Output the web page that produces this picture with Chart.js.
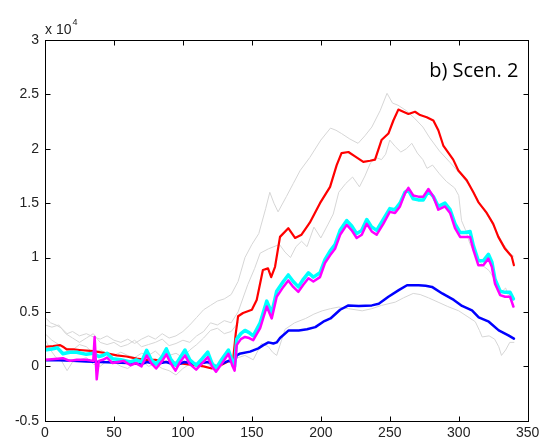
<!DOCTYPE html>
<html><head><meta charset="utf-8">
<script src="https://cdn.jsdelivr.net/npm/chart.js@4.4.1/dist/chart.umd.min.js"></script>
<style>html,body{margin:0;padding:0;background:#fff;}#c{display:block;}</style>
</head><body>
<canvas id="c" width="544" height="444"></canvas>
<script>
// ---- tick labels / texts ----
const xTicks = [0, 50, 100, 150, 200, 250, 300, 350];
const yTicks = [-0.5, 0, 0.5, 1, 1.5, 2, 2.5, 3];
const yTickLabels = ['-0.5', '0', '0.5', '1', '1.5', '2', '2.5', '3'];
const exponentBase = 'x 10';
const exponentPower = '4';
const panelLabel = 'b) Scen. 2';

// ---- series (values in units of 10^4) ----
const redX = [0,6,11,13,15.7,20.5,25,35,44.7,52,59,66.5,72.5,80,87,96.7,108.8,115,121,126,130.5,136.5,138.3,140,143.6,150,153.5,158,161.7,164,166.8,170.4,176.4,181.3,186,192,199.4,206.7,211.5,215,220,224.8,230.8,235.7,239.3,244,249,252.6,256.2,259.8,263.5,268.3,272,276.8,281.6,285.2,288.8,296,299.7,305.8,310.6,314.2,320.3,325,328.7,333.6,338.4,340];
const redY = [0.18,0.185,0.195,0.18,0.155,0.155,0.15,0.14,0.12,0.10,0.09,0.07,0.06,0.06,0.04,0.03,0.01,0.0,-0.02,0.0,0.03,0.07,0.30,0.46,0.49,0.52,0.61,0.885,0.90,0.82,0.915,1.19,1.27,1.18,1.21,1.32,1.50,1.65,1.85,1.96,1.97,1.93,1.88,1.89,1.90,2.08,2.14,2.26,2.36,2.34,2.32,2.34,2.31,2.29,2.26,2.17,2.03,1.90,1.80,1.71,1.60,1.51,1.41,1.31,1.19,1.08,1.01,0.93];

const magX = [0,5,9,13,18,23,30,35,36,37.5,39,42,45,49,53,57,62,66,70,73.7,77,80.6,85,88,91,94.6,98,101.5,105,109.6,114,118,121,124,128,133,136,137.5,139,142,145,148,151,156,160.8,164.4,168,172.8,176.4,180,183.7,187.3,191,194.6,199.4,203,206.7,210.3,214,218.8,222.4,226,229.7,233.3,236.9,240.5,245.3,250,253.8,257.4,261,263.5,267,270.7,274.3,278,281.6,285.2,290,293.7,297.3,301,304.6,308.2,310.6,314.2,317.8,321.5,324,326.3,330,333.6,337.2,339.6];
const magY = [0.06,0.065,0.07,0.075,0.05,0.06,0.06,0.05,0.27,-0.12,0.05,0.06,0.08,0.03,0.04,0.05,0.01,0.03,0.0,0.10,0.03,-0.02,0.05,0.11,0.03,-0.04,0.04,0.10,0.02,-0.03,0.03,0.085,0.0,-0.05,0.02,0.115,0.0,-0.04,0.195,0.25,0.27,0.26,0.24,0.35,0.55,0.44,0.64,0.73,0.79,0.73,0.685,0.75,0.81,0.78,0.82,0.95,1.02,1.08,1.21,1.30,1.25,1.18,1.21,1.31,1.24,1.21,1.31,1.42,1.41,1.47,1.59,1.64,1.57,1.56,1.56,1.63,1.56,1.44,1.47,1.41,1.27,1.19,1.19,1.19,1.07,0.93,0.93,0.99,0.915,0.76,0.655,0.64,0.64,0.55];

const cyanX = [0,5,9,13,18,23,30,35,39,42,45,49,55,62,66,70,73.7,77,80.6,85,88,91,94.6,98,101.5,105,109.6,114,118,121,124,128,133,136,137.5,139,142,145,148,151,156,160.8,164.4,168,172.8,176.4,180,183.7,187.3,191,194.6,199.4,203,206.7,210.3,214,218.8,222.4,226,229.7,233.3,236.9,240.5,245.3,250,253.8,257.4,261,263.5,267,270.7,274.3,278,281.6,285.2,290,293.7,297.3,301,304.6,308.2,310.6,314.2,317.8,321.5,324,326.3,330,333.6,337.2,339.6];
const cyanY = [0.15,0.16,0.17,0.115,0.13,0.13,0.11,0.12,0.09,0.10,0.12,0.07,0.06,0.04,0.06,0.04,0.147,0.06,0.02,0.09,0.16,0.07,0.01,0.08,0.15,0.06,0.01,0.07,0.13,0.03,-0.02,0.06,0.15,0.04,0.0,0.25,0.30,0.33,0.31,0.28,0.40,0.60,0.49,0.69,0.78,0.84,0.78,0.73,0.80,0.86,0.82,0.86,0.98,1.06,1.12,1.25,1.34,1.29,1.22,1.25,1.35,1.28,1.25,1.35,1.45,1.44,1.50,1.60,1.62,1.54,1.53,1.53,1.61,1.56,1.47,1.50,1.44,1.31,1.23,1.23,1.24,1.11,0.97,0.97,1.03,0.96,0.80,0.69,0.68,0.68,0.62];

const blueX = [0,10,20,30,40,50,60,70,74,80,88,95,101,110,118,124,133,137.5,139,141,148.7,154.7,158.3,162,165.6,168,170.4,176.7,184,190,196,201.8,207,214,220,227.5,237,242,249,256.5,262.5,271,276,280.6,288,296.4,302.4,309.6,314.5,321.8,329,336,340];
const blueY = [0.055,0.055,0.05,0.045,0.04,0.035,0.03,0.02,0.04,0.02,0.04,0.01,0.04,0.02,0.04,0.0,0.05,0.03,0.10,0.115,0.135,0.165,0.195,0.22,0.21,0.22,0.26,0.33,0.33,0.34,0.36,0.41,0.44,0.52,0.56,0.555,0.56,0.575,0.64,0.70,0.745,0.745,0.74,0.73,0.67,0.61,0.555,0.515,0.45,0.41,0.33,0.285,0.255];

const grayAX = [0,4,8,12,16,20,25,30,35,40,45,50,55,60,65,70,75,80,85,90,95,100,105,110,115,120,125,130,135,140,145,150,155,160,163,166,169,175,180,185,192,200,207,211,215,221,227,232,237,243,248,252,256,262,268,274,279,286,294,303,310,316,323,332,337,340];
const grayAY = [0.45,0.40,0.38,0.35,0.30,0.32,0.28,0.30,0.27,0.25,0.28,0.24,0.22,0.25,0.21,0.25,0.28,0.25,0.30,0.26,0.28,0.32,0.38,0.45,0.52,0.56,0.60,0.62,0.66,0.78,1.00,1.12,1.22,1.45,1.60,1.50,1.42,1.56,1.68,1.80,1.92,2.08,2.19,2.17,2.14,2.09,2.05,2.12,2.20,2.35,2.51,2.42,2.40,2.35,2.28,2.20,2.10,1.98,1.87,1.74,1.62,1.48,1.34,1.13,1.04,1.01];

const grayBX = [0,5,10,15,20,25,30,35,40,45,50,55,60,65,70,75,80,85,90,95,100,105,110,115,120,125,130,135,140,147,152,156,162,166,170,174,178,182,186,190,195,200,205,209,213,218,223,228,232,236,240,244,247,250,254,258,262,266,270,274,277,281,286,291,297,300,302,305,308,314,318,322,326,330,334,337,340];
const grayBY = [0.38,0.36,0.38,0.30,0.26,0.22,0.26,0.30,0.22,0.20,0.22,0.18,0.20,0.24,0.18,0.20,0.22,0.25,0.19,0.21,0.24,0.22,0.28,0.32,0.40,0.38,0.42,0.40,0.50,0.75,0.90,1.04,1.08,1.10,1.12,1.05,1.00,1.10,1.15,1.10,1.28,1.18,1.30,1.40,1.60,1.68,1.74,1.65,1.75,1.87,1.92,1.90,1.95,2.08,2.02,1.97,2.00,2.05,1.96,1.90,1.82,1.85,1.77,1.70,1.64,1.57,1.34,1.25,1.13,0.98,0.92,0.88,0.80,0.67,0.72,0.62,0.55];

const grayCX = [0,4,8,12,16,20,25,30,35,40,45,50,55,60,65,70,75,80,85,90,95,100,105,110,115,120,125,130,135,140,145,151,157,162,165,168,174,181,189,195,201,207,213,220,230,237,244,254,260,267,272,278,285,292,300,306,312,315,317,322,326,329,331,334,337,340];
const grayCY = [0.25,0.15,0.08,0.05,-0.04,0.04,0.06,0.08,0.02,0.0,0.05,0.04,0.0,-0.02,0.03,0.05,0.0,0.02,-0.02,-0.04,-0.08,-0.02,0.02,0.0,0.05,0.0,-0.02,0.03,0.05,0.08,0.10,0.06,0.21,0.18,0.13,0.10,0.34,0.40,0.44,0.48,0.51,0.53,0.545,0.53,0.51,0.53,0.56,0.59,0.63,0.67,0.66,0.63,0.59,0.55,0.51,0.46,0.41,0.33,0.27,0.28,0.25,0.18,0.10,0.15,0.22,0.22];

const grayDX = [0,5,10,15,20,25,30,35,40,45,50,55,60,65,70,75,80,85,90,95,100,105,110,115,120,125,130,135,140];
const grayDY = [0.30,0.24,0.20,0.17,0.15,0.20,0.18,0.12,0.15,0.12,0.10,0.13,0.10,0.08,0.12,0.10,0.14,0.08,0.10,0.12,0.08,0.15,0.20,0.26,0.33,0.35,0.30,0.32,0.40];

function pts(xs, ys) { return xs.map((x, i) => ({ x: x, y: ys[i] })); }

const GRAY = '#d6d6d6';
const datasets = [
  { data: pts(magX, magY), borderColor: '#ff00ff', borderWidth: 2.5, order: 0 },
  { data: pts(cyanX, cyanY), borderColor: '#00ffff', borderWidth: 3.5, order: 1 },
  { data: pts(blueX, blueY), borderColor: '#0000ff', borderWidth: 2.5, order: 2 },
  { data: pts(redX, redY), borderColor: '#ff0000', borderWidth: 2.2, order: 3 },
  { data: pts(grayAX, grayAY), borderColor: GRAY, borderWidth: 1, order: 10 },
  { data: pts(grayBX, grayBY), borderColor: GRAY, borderWidth: 1, order: 11 },
  { data: pts(grayCX, grayCY), borderColor: GRAY, borderWidth: 1, order: 12 },
  { data: pts(grayDX, grayDY), borderColor: GRAY, borderWidth: 1, order: 13 }
];

const TICK_FONT = { family: 'Liberation Sans, Arial, sans-serif', size: 14 };
const TXT = '#222';

const framePlugin = {
  id: 'frame',
  afterDraw(chart) {
    const { ctx, chartArea: a, scales } = chart;
    const xs = scales.x, ys = scales.y;
    ctx.save();
    ctx.strokeStyle = '#000';
    ctx.lineWidth = 1;
    const L = Math.round(a.left) + 0.5, R = Math.round(a.right) + 0.5;
    const T = Math.round(a.top) + 0.5, B = Math.round(a.bottom) + 0.5;
    ctx.strokeRect(L, T, R - L, B - T);
    const tl = 5;
    ctx.beginPath();
    xTicks.forEach(v => {
      const p = Math.round(xs.getPixelForValue(v)) + 0.5;
      ctx.moveTo(p, B); ctx.lineTo(p, B - tl);
      ctx.moveTo(p, T); ctx.lineTo(p, T + tl);
    });
    yTicks.forEach(v => {
      const p = Math.round(ys.getPixelForValue(v)) + 0.5;
      ctx.moveTo(L, p); ctx.lineTo(L + tl, p);
      ctx.moveTo(R, p); ctx.lineTo(R - tl, p);
    });
    ctx.stroke();
    // exponent label
    ctx.fillStyle = TXT;
    ctx.textAlign = 'left';
    ctx.textBaseline = 'alphabetic';
    ctx.font = '14px "Liberation Sans", Arial, sans-serif';
    ctx.fillText(exponentBase, a.left, 33.5);
    const w = ctx.measureText(exponentBase).width;
    ctx.font = '9px "Liberation Sans", Arial, sans-serif';
    ctx.fillText(exponentPower, a.left + w + 1, 25);
    // panel label
    ctx.fillStyle = '#000';
    ctx.textAlign = 'right';
    ctx.font = '20px "Open Sans", sans-serif';
    ctx.fillText(panelLabel, 518.5, 77);
    ctx.restore();
  }
};

new Chart(document.getElementById('c'), {
  type: 'line',
  data: { datasets: datasets },
  plugins: [framePlugin],
  options: {
    responsive: false,
    animation: false,
    layout: { padding: { left: 0, top: 40, right: 16.3, bottom: 0 } },
    plugins: { legend: { display: false }, tooltip: { enabled: false } },
    elements: { point: { radius: 0 }, line: { tension: 0, borderJoinStyle: 'round', borderCapStyle: 'round', fill: false } },
    scales: {
      x: {
        type: 'linear', min: 0, max: 350,
        grid: { display: false, drawTicks: false },
        border: { display: false },
        ticks: { color: TXT, font: TICK_FONT, padding: 4, maxRotation: 0, autoSkip: false },
        afterBuildTicks: s => { s.ticks = xTicks.map(v => ({ value: v })); },
        afterFit: s => { s.height = 23.3; }
      },
      y: {
        type: 'linear', min: -0.5, max: 3,
        grid: { display: false, drawTicks: false },
        border: { display: false },
        ticks: {
          color: TXT, font: TICK_FONT, padding: 6,
          callback: v => { const i = yTicks.indexOf(v); return i >= 0 ? yTickLabels[i] : ''; }
        },
        afterBuildTicks: s => { s.ticks = yTicks.map(v => ({ value: v })); },
        afterFit: s => { s.width = 45; }
      }
    }
  }
});
</script>
</body></html>
